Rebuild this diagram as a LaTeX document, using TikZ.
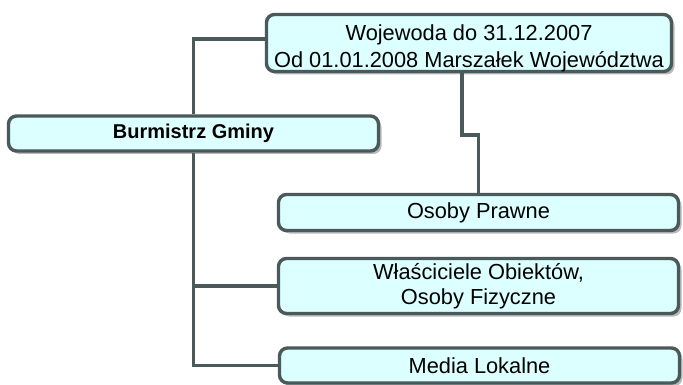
\documentclass[tikz,border=0pt]{standalone}
\usepackage{fontspec}
\setmainfont{Liberation Sans}
\usepackage{tikz}
\usetikzlibrary{shadows,calc}
\definecolor{ramka}{RGB}{74,90,90}
\definecolor{wypelnienie}{RGB}{220,255,255}
\begin{document}
\begin{tikzpicture}[x=1pt,y=-1pt,
    orgbox/.style={draw=ramka, fill=wypelnienie, line width=3.4pt,
      rounded corners=8pt, align=center, inner sep=0pt,
      font=\fontsize{21.8}{27}\selectfont,
      drop shadow={shadow xshift=3pt, shadow yshift=-3pt, fill=gray!55, opacity=1}},
    link/.style={draw=ramka, line width=3.4pt}]
          \useasboundingbox[fill=white] (0,0) rectangle (683,385);
          \node[orgbox, minimum width=405pt, minimum height=57pt] (wojewoda)
          at (469, 43) {\raisebox{-6pt}[\height][\depth]{%
          \begin{tabular}{@{}c@{}}Wojewoda do 31.12.2007\\Od 01.01.2008 Marszałek Województwa\end{tabular}}};
          \node[orgbox, minimum width=370pt, minimum height=35pt,
          font=\fontsize{20}{24}\selectfont\bfseries] (burmistrz)
          at (193.5, 133.5) {Burmistrz Gminy};
          \node[orgbox, minimum width=400pt, minimum height=36pt] (prawne)
          at (478.5, 212.5) {Osoby Prawne};
          \node[orgbox, minimum width=400pt, minimum height=55pt,
          font=\fontsize{21.8}{25}\selectfont] (wlasciciele)
          at (478.5, 286) {Właściciele Obiektów,\\Osoby Fizyczne};
          \node[orgbox, minimum width=400pt, minimum height=35pt] (media)
          at (479.5, 365.5) {Media Lokalne};
          \coordinate (kink) at (462, 135);

          \draw[link] (burmistrz.north) |- ([yshift=4pt]wojewoda.west);
          \draw[link] (kink |- wojewoda.south) -- (kink) -| (prawne.north);
          \draw[link] (burmistrz.south) |- (media.west);
          \draw[link] (burmistrz.south |- wlasciciele.west) --
          (wlasciciele.west);
        \end{tikzpicture}
\end{document}
